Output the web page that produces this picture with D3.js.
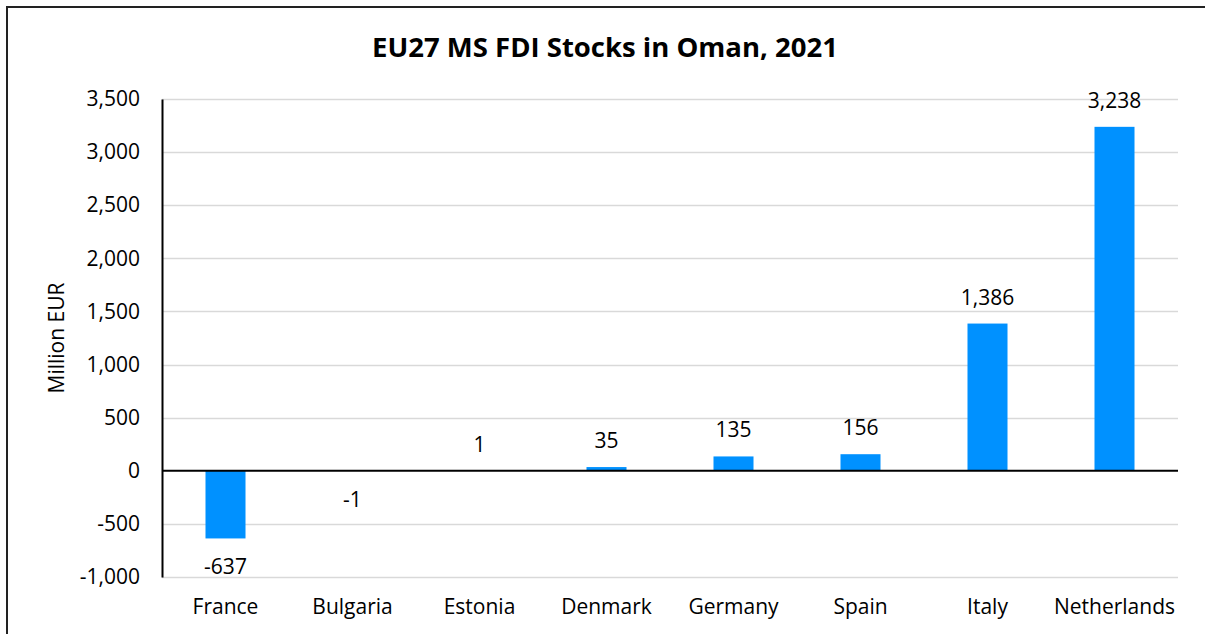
<!DOCTYPE html>
<html>
  <head>
    <meta charset="utf-8">
    <style>
      body { margin: 0; background: #fff; }
      text { font-family: "Open Sans", sans-serif; fill: #000; }
    </style>
  </head>
  <body>
    <div class="chart"></div>
    <script src="https://cdn.jsdelivr.net/npm/d3@7"></script>
    <script>
      const countries = ['France', 'Bulgaria', 'Estonia', 'Denmark', 'Germany', 'Spain', 'Italy', 'Netherlands'];
      const stocks = [-637, -1, 1, 35, 135, 156, 1386, 3238];
      const yTicks = [-1000, -500, 0, 500, 1000, 1500, 2000, 2500, 3000, 3500];

      const width = 1205;
      const height = 634;
      const margin = { top: 99, right: 27, bottom: 57, left: 162 };
      const barColor = '#0091ff';
      const fontSize = '21px';

      const data = countries.map((c, i) => ({ label: c, value: stocks[i] }));

      const svg = d3.select('.chart')
        .append('svg')
        .attr('width', width)
        .attr('height', height);

      // outer frame
      svg.append('rect')
        .attr('x', 7).attr('y', 7)
        .attr('width', width + 10).attr('height', height + 10)
        .attr('fill', 'none')
        .attr('stroke', '#222')
        .attr('stroke-width', 2);

      const x = d3.scaleBand()
        .domain(countries)
        .range([margin.left, width - margin.right])
        .paddingInner(0.685)
        .paddingOuter(0.3425);

      const y = d3.scaleLinear()
        .domain([-1000, 3500])
        .range([height - margin.bottom, margin.top]);

      // plain hyphen for negatives, like the source
      const fmt = d3.formatLocale({ decimal: '.', thousands: ',', grouping: [3], currency: ['', ''], minus: '-' }).format(',');

      // gridlines
      svg.append('g')
        .selectAll('line')
        .data(yTicks.filter((t) => t !== 0))
        .join('line')
        .attr('x1', margin.left)
        .attr('x2', width - margin.right)
        .attr('y1', (d) => Math.round(y(d)) + 0.5)
        .attr('y2', (d) => Math.round(y(d)) + 0.5)
        .attr('stroke', '#d9d9d9')
        .attr('stroke-width', 1.5);

      // y axis
      const axisLeft = d3.axisLeft(y).tickValues(yTicks).tickFormat(fmt).tickSize(0).tickPadding(22);
      const gy = svg.append('g')
        .attr('transform', `translate(${margin.left},0)`)
        .call(axisLeft);
      gy.select('.domain').attr('stroke', '#000').attr('stroke-width', 2);
      gy.selectAll('text').style('font-size', fontSize).attr('font-family', null).attr('fill', '#000');

      // bars
      svg.append('g')
        .selectAll('rect')
        .data(data)
        .join('rect')
        .attr('x', (d) => x(d.label))
        .attr('width', x.bandwidth())
        .attr('y', (d) => y(Math.max(0, d.value)))
        .attr('height', (d) => Math.abs(y(d.value) - y(0)))
        .attr('fill', barColor);

      // zero line
      svg.append('line')
        .attr('x1', margin.left)
        .attr('x2', width - margin.right)
        .attr('y1', y(0))
        .attr('y2', y(0))
        .attr('stroke', '#000')
        .attr('stroke-width', 2);

      // value labels
      svg.append('g')
        .selectAll('text')
        .data(data)
        .join('text')
        .attr('x', (d) => x(d.label) + x.bandwidth() / 2)
        .attr('y', (d) => (d.value >= 0 ? y(d.value) - 19 : y(d.value) + 36))
        .attr('text-anchor', 'middle')
        .style('font-size', fontSize)
        .text((d) => fmt(d.value));

      // x labels
      svg.append('g')
        .selectAll('text')
        .data(countries)
        .join('text')
        .attr('x', (d) => x(d) + x.bandwidth() / 2)
        .attr('y', 614)
        .attr('text-anchor', 'middle')
        .style('font-size', fontSize)
        .text((d) => d);

      // title
      svg.append('text')
        .attr('x', 605)
        .attr('y', 57)
        .attr('text-anchor', 'middle')
        .style('font-size', '27.5px')
        .style('font-weight', 'bold')
        .text('EU27 MS FDI Stocks in Oman, 2021');

      // y axis title
      svg.append('text')
        .attr('transform', `translate(64, ${y(1250)}) rotate(-90)`)
        .attr('text-anchor', 'middle')
        .style('font-size', fontSize)
        .text('Million EUR');
    </script>
  </body>
</html>
